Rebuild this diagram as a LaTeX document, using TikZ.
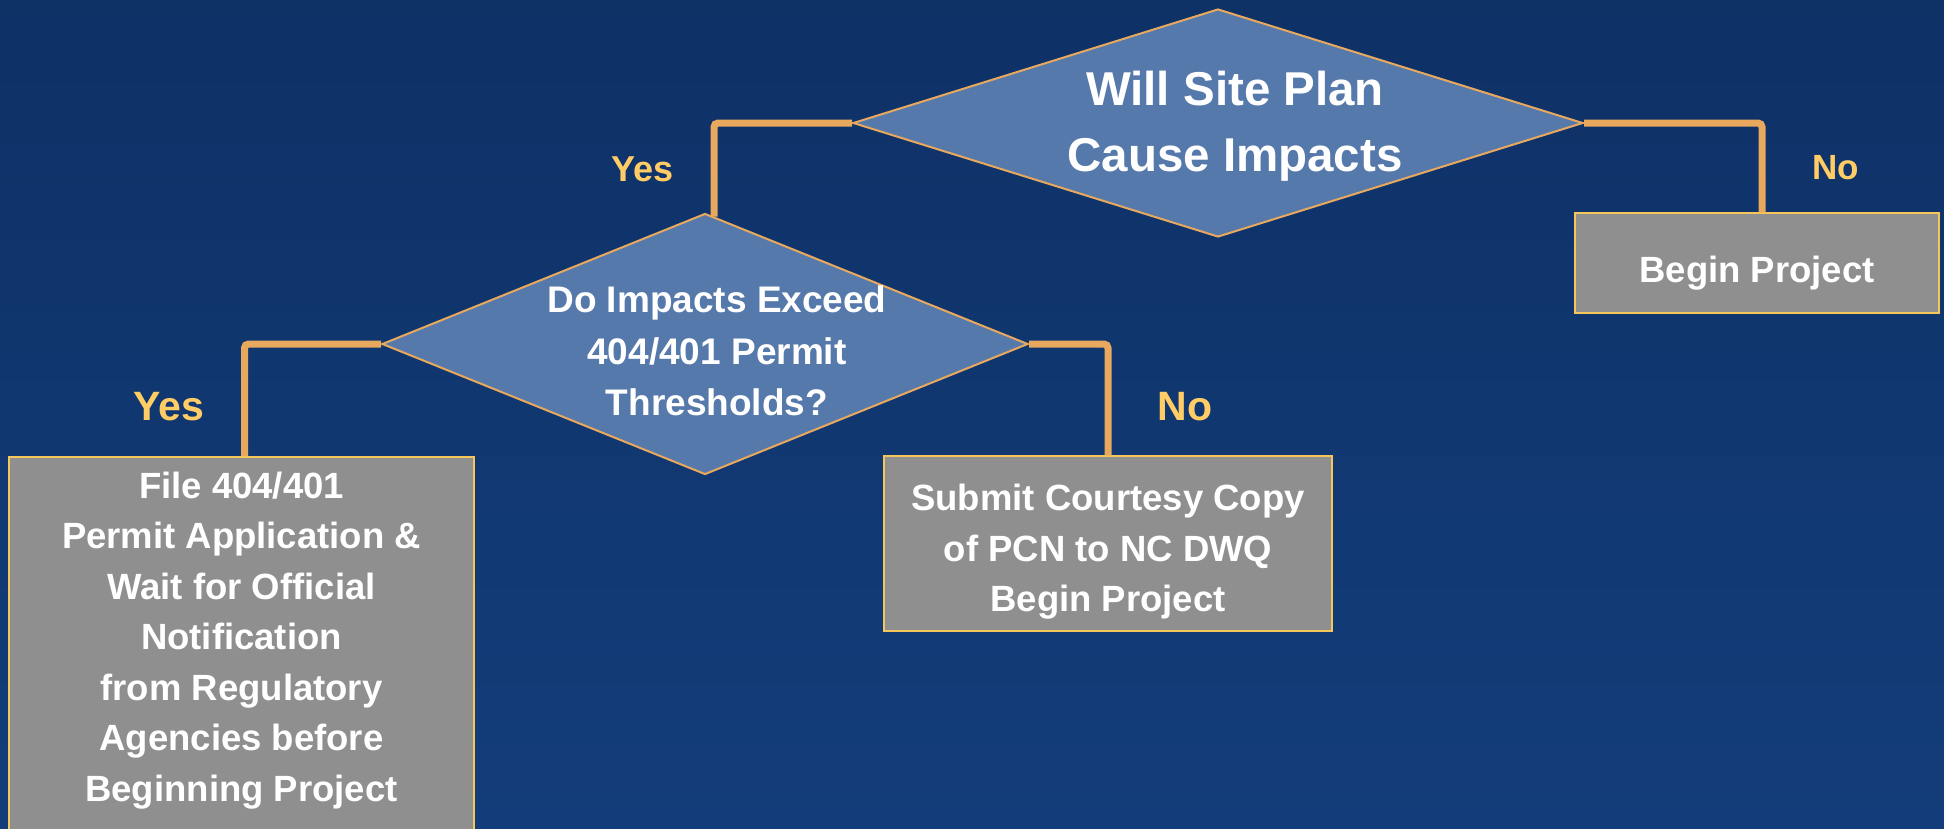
\documentclass[tikz,border=0pt]{standalone}
\usepackage{fontspec}
\setmainfont{Liberation Sans}
\usetikzlibrary{shapes.geometric}

\definecolor{bgtop}{HTML}{0E3166}
\definecolor{bgbottom}{HTML}{133D7A}
\definecolor{askblue}{HTML}{5679AB}
\definecolor{pipe}{HTML}{E8A95E}
\definecolor{boxgray}{HTML}{8F8F8F}
\definecolor{boxrim}{HTML}{F5C65A}
\definecolor{answer}{HTML}{FFCC66}

\tikzset{
	ask/.style={diamond, draw=pipe, line width=2pt, fill=askblue, inner sep=0pt},
	asktext/.style 2 args={text=white, align=center, font=\bfseries\fontsize{#1}{#2}\selectfont},
	doit/.style={rectangle, draw=boxrim, line width=1.5pt, fill=boxgray, text=white, align=center,
		font=\bfseries\fontsize{36.5}{50.5}\selectfont},
	reply/.style={text=answer, inner sep=0pt, font=\bfseries\fontsize{#1}{#1}\selectfont},
	link/.style={draw=pipe, line width=7pt, rounded corners=4pt}
}

\begin{document}
\begin{tikzpicture}[x=1pt,y=-1pt]
	\useasboundingbox (0,0) rectangle (1944,828);
	\clip (0,0) rectangle (1944,828);
	\shade[top color=bgtop, bottom color=bgbottom] (0,0) rectangle (1944,828);

	% questions
	\node[ask, minimum width=730, minimum height=228,
		label={[asktext={47.5}{66}, xshift=17pt, yshift=-3pt]center:Will Site Plan\\Cause Impacts}] (site) at (1218,123) {};
	\node[ask, minimum width=646, minimum height=261,
		label={[asktext={37}{51.5}, xshift=12pt, yshift=-7pt]center:Do Impacts Exceed\\404/401 Permit\\Thresholds?}] (thresh) at (705,344) {};

	% outcomes
	\node[doit, minimum width=364, minimum height=100, text height=38pt, text depth=0pt] (begin) at (1757,263) {Begin Project};
	\node[doit, minimum width=448, minimum height=175, text height=136pt, text depth=0pt] (courtesy) at (1108,543.5)
		{Submit Courtesy Copy\\of PCN to NC DWQ\\Begin Project};
	\node[doit, anchor=north, minimum width=465, inner ysep=15pt, text depth=400pt] (file) at (241.5,456)
		{File 404/401\\Permit Application \&\\Wait for Official\\Notification\\from Regulatory\\Agencies before\\Beginning Project};

	% branches
	\draw[link] (site.west) -| node[reply=36, pos=0.75, left=37pt] {Yes} ([xshift=9pt,yshift=-4pt]thresh.north);
	\draw[link] (site.east) -| node[reply=35, pos=0.75, right=47pt] {No} ([xshift=5pt]begin.north);
	\draw[link] (thresh.west) -| node[reply=41, pos=0.78, left=37pt] {Yes} ([xshift=3pt]file.north);
	\draw[link] (thresh.east) -| node[reply=41, pos=0.78, right=46pt] {No} (courtesy.north);
\end{tikzpicture}
\end{document}
